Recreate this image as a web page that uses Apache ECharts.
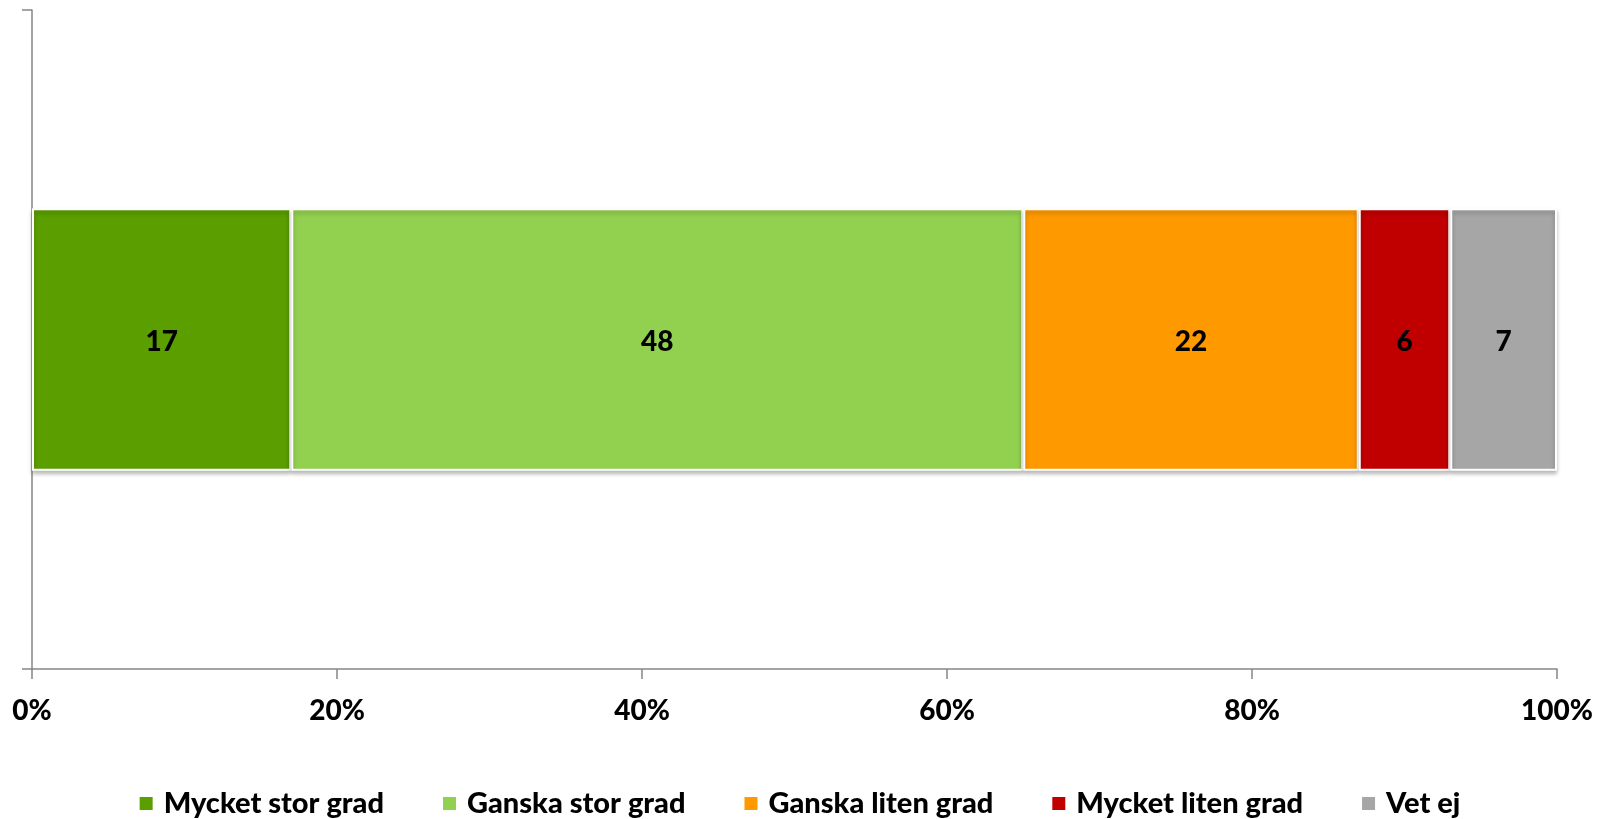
<!DOCTYPE html>
<html>
<head>
<meta charset="utf-8">
<script src="https://cdn.jsdelivr.net/npm/echarts@6/dist/echarts.min.js"></script>
<style>html,body{margin:0;padding:0;background:#fff}#c{width:1598px;height:819px}</style>
</head>
<body>
<div id="c"></div>
<script>
const categories = [''];
const seriesNames = ['Mycket stor grad', 'Ganska stor grad', 'Ganska liten grad', 'Mycket liten grad', 'Vet ej'];
const seriesValues = [17, 48, 22, 6, 7];
const seriesColors = ['#5A9E00', '#92D050', '#FF9900', '#C00000', '#A6A6A6'];
const xTicks = [0, 20, 40, 60, 80, 100];

const FONT = 'Lato';
const WEIGHT = 900;
const chart = echarts.init(document.getElementById('c'));
chart.setOption({
  animation: false,
  textStyle: { fontFamily: FONT },
  grid: { left: 32, right: 41, top: 10, bottom: 150 },
  legend: {
    top: 789,
    left: 'center',
    padding: 0,
    itemWidth: 15,
    itemHeight: 15,
    itemGap: 57,
    icon: 'rect',
    textStyle: { fontFamily: FONT, fontWeight: WEIGHT, fontSize: 29, color: '#000', padding: [0, 0, 0, 5] },
    data: seriesNames
  },
  xAxis: {
    type: 'value',
    min: xTicks[0],
    max: xTicks[xTicks.length - 1],
    interval: 20,
    axisLine: { show: true, lineStyle: { color: '#868686', width: 1.5 } },
    axisTick: { show: true, length: 10, lineStyle: { color: '#868686', width: 1.5 } },
    splitLine: { show: false },
    axisLabel: { formatter: '{value}%', fontFamily: FONT, fontWeight: WEIGHT, fontSize: 28, color: '#000', margin: 28 }
  },
  yAxis: {
    type: 'category',
    data: categories,
    axisLine: { show: true, lineStyle: { color: '#868686', width: 1.5 } },
    axisTick: { show: true, length: 10, lineStyle: { color: '#868686', width: 1.5 } },
    axisLabel: { show: false }
  },
  series: seriesNames.map((name, i) => ({
    name: name,
    type: 'bar',
    stack: 'total',
    barWidth: '39.8%',
    data: [seriesValues[i]],
    itemStyle: {
      color: seriesColors[i],
      borderColor: '#fff',
      borderWidth: 2,
      shadowColor: 'rgba(0,0,0,0.25)',
      shadowBlur: 4,
      shadowOffsetY: 3
    },
    label: { show: true, position: 'inside', offset: [0, 2], color: '#000', fontFamily: FONT, fontWeight: WEIGHT, fontSize: 28 }
  }))
});
</script>
</body>
</html>
